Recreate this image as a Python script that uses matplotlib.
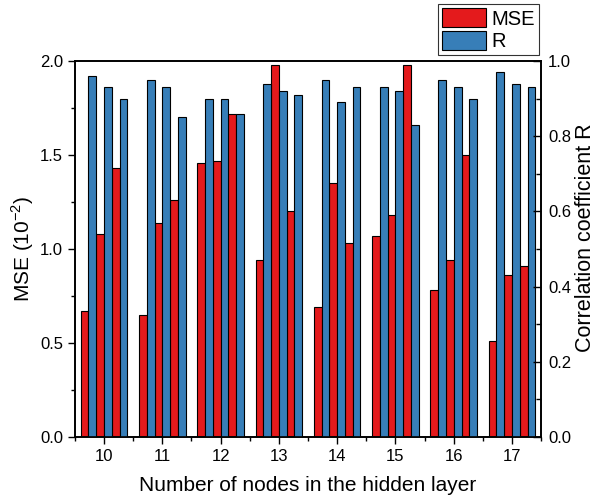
import numpy as np
import matplotlib
matplotlib.use("Agg")
import matplotlib.pyplot as plt
from matplotlib.ticker import MultipleLocator, FormatStrFormatter

plt.rcParams['font.family'] = ['Liberation Sans', 'DejaVu Sans']

# nodes in the hidden layer
nodes = [10, 11, 12, 13, 14, 15, 16, 17]

# three runs per node count
mse_1 = [0.67, 0.65, 1.46, 0.94, 0.69, 1.07, 0.78, 0.51]
mse_2 = [1.08, 1.14, 1.47, 1.98, 1.35, 1.18, 0.94, 0.86]
mse_3 = [1.43, 1.26, 1.72, 1.20, 1.03, 1.98, 1.50, 0.91]

r_1 = [0.96, 0.95, 0.90, 0.94, 0.95, 0.93, 0.95, 0.97]
r_2 = [0.93, 0.93, 0.90, 0.92, 0.89, 0.92, 0.93, 0.94]
r_3 = [0.90, 0.85, 0.86, 0.91, 0.93, 0.83, 0.90, 0.93]

red = '#E41A1C'
blue = '#377EB8'

x = np.array(nodes, dtype=float)
w = 0.8 / 6

fig = plt.figure(figsize=(6.04, 5.0), dpi=100)
ax = fig.add_axes([0.124, 0.126, 0.772, 0.752])
ax2 = ax.twinx()

bar_kw = dict(width=w, edgecolor='black', linewidth=0.8)
for k, vals in zip([0, 2, 4], [mse_1, mse_2, mse_3]):
    hm = ax.bar(x + (k - 2.5) * w, vals, color=red, label='MSE', **bar_kw)
for k, vals in zip([1, 3, 5], [r_1, r_2, r_3]):
    hr = ax2.bar(x + (k - 2.5) * w, vals, color=blue, label='R', **bar_kw)

ax.set_xlim(9.5, 17.5)
ax.set_ylim(0, 2.0)
ax2.set_ylim(0, 1.0)

ax.set_xticks(nodes)
ax.xaxis.set_minor_locator(MultipleLocator(0.5))
ax.yaxis.set_major_locator(MultipleLocator(0.5))
ax.yaxis.set_minor_locator(MultipleLocator(0.25))
ax2.yaxis.set_major_locator(MultipleLocator(0.2))
ax2.yaxis.set_minor_locator(MultipleLocator(0.1))
ax.yaxis.set_major_formatter(FormatStrFormatter('%.1f'))
ax2.yaxis.set_major_formatter(FormatStrFormatter('%.1f'))

ax.tick_params(axis='both', which='major', direction='out', length=5, width=1, labelsize=12)
ax.tick_params(axis='both', which='minor', direction='out', length=3, width=1)
ax.tick_params(axis='y', right=False, which='both')
ax2.tick_params(axis='y', which='major', direction='in', length=6, width=1, labelsize=12, pad=5)
ax2.tick_params(axis='y', which='minor', direction='in', length=3.5, width=1)

for a in (ax, ax2):
    for s in a.spines.values():
        s.set_linewidth(1.2)

ax.set_xlabel('Number of nodes in the hidden layer', fontsize=15, labelpad=9)
ax.set_ylabel('MSE (10$^{\\mathregular{-2}}$)', fontsize=15, labelpad=3)
ax2.set_ylabel('Correlation coefficient R', fontsize=15.5)
ax2.yaxis.set_label_coords(1.072, 0.53)

leg = fig.legend([hm, hr], ['MSE', 'R'], loc='upper right',
                 bbox_to_anchor=(0.892, 0.992), fontsize=14.5,
                 frameon=True, fancybox=False, edgecolor='black',
                 handlelength=2.2, handleheight=1.1, handletextpad=0.25,
                 borderpad=0.2, labelspacing=0.1, borderaxespad=0)
leg.get_frame().set_linewidth(0.8)

fig.savefig('out.png', dpi=100)
